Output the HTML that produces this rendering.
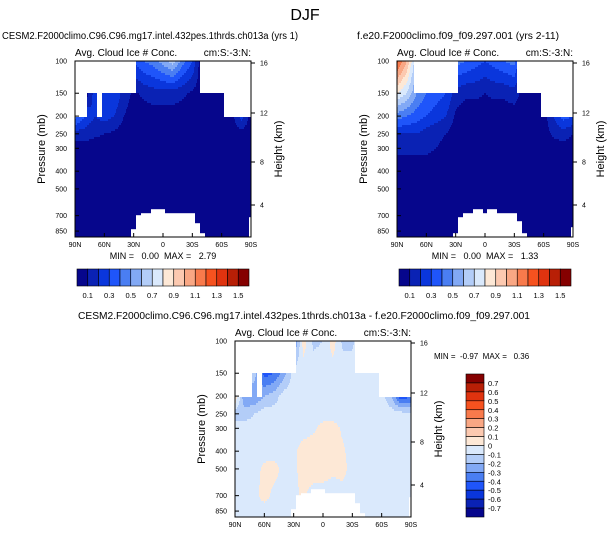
<!DOCTYPE html>
<html><head><meta charset="utf-8"><style>
body{margin:0;background:#fff;}
svg{display:block;font-family:"Liberation Sans",Arial,sans-serif;}
text{white-space:pre;}
</style></head><body>
<svg id="chart" width="609" height="538" viewBox="0 0 609 538">
<text x="305" y="20" font-size="16" text-anchor="middle">DJF</text>
</svg>
<script>
// ---- data ----
const latTicks = ["90N","60N","30N","0","30S","60S","90S"];
const presTicks = [100,150,200,250,300,400,500,700,850];
const heightTicks = [16,12,8,4];
const heightTickY = [2,52,101,144]; // offsets from plot top
const lats10 = [90,80,70,60,50,40,30,20,10,0,-10,-20,-30,-40,-50,-60,-70,-80,-90];
const levs = [100,150,200,250,300,400,500,700,850];
const seqLabels = ["0.1","0.3","0.5","0.7","0.9","1.1","1.3","1.5"];
const diffLabels = ["0.7","0.6","0.5","0.4","0.3","0.2","0.1","0","-0.1","-0.2","-0.3","-0.4","-0.5","-0.6","-0.7"];
const seqColors = ["#06068c","#0a22b4","#0a36dc","#1f55fa","#4a7ef2","#82a9f5","#b3cdf8","#dae9fc","#fde8d6","#fcc9b0","#f9a784","#f87a4c","#f6521f","#e0330f","#b81f06","#850000"];
// 5-degree masks (pressure where data starts / ends), 90N..90S
const top1 = [200,200,200,150,150,200,150,150,150,150,150,150,150,100,100,100,100,100,100,100,100,100,100,100,100,100,150,150,150,150,150,200,200,200,200,200,200];
const sfc1 = [999,999,999,999,999,999,999,999,999,999,999,999,830,690,670,670,640,640,640,670,670,670,670,670,670,760,860,999,999,999,999,999,999,999,999,999,720];
const top2 = [100,100,100,100,150,150,150,150,150,150,150,150,150,100,100,100,100,100,100,100,100,100,100,100,100,150,150,150,150,150,200,200,200,200,200,200,200];
const sfc2 = [999,999,999,999,999,999,999,999,999,999,999,999,860,720,670,670,640,640,670,640,640,670,670,670,670,740,880,999,999,999,999,999,999,999,999,999,800];
const top3 = [200,200,200,200,150,200,150,150,150,150,150,150,150,100,100,100,100,100,100,100,100,100,100,100,100,150,150,150,150,150,200,200,200,200,200,200,200];
const sfc3 = sfc1;
const field1 = [
[0,0,0,0,0,0,0.3,0.4,0.45,0.55,0.65,0.45,0.3,0,0,0,0,0,0],
[0,0,0.25,0.3,0.3,0.15,0.08,0.12,0.15,0.15,0.15,0.12,0.08,0.05,0.05,0.05,0,0,0],
[0.45,0.3,0.2,0.25,0.2,0.1,0.05,0.05,0.05,0.05,0.05,0.05,0.05,0.05,0.05,0.05,0.05,0.25,0.05],
[0.15,0.15,0.12,0.1,0.08,0.05,0.05,0.05,0.05,0.05,0.05,0.05,0.05,0.05,0.05,0.05,0.05,0.05,0.05],
[0.05,0.05,0.05,0.05,0.05,0.05,0.05,0.05,0.05,0.05,0.05,0.05,0.05,0.05,0.05,0.05,0.05,0.05,0.05],
[0.05,0.05,0.05,0.05,0.05,0.05,0.05,0.05,0.05,0.05,0.05,0.05,0.05,0.05,0.05,0.05,0.05,0.05,0.05],
[0.05,0.05,0.05,0.05,0.05,0.05,0.05,0.05,0.05,0.05,0.05,0.05,0.05,0.05,0.05,0.05,0.05,0.05,0.05],
[0.05,0.05,0.05,0.05,0.05,0.05,0.05,0.05,0.05,0.05,0.05,0.05,0.05,0.05,0.05,0.05,0.05,0.05,0.05],
[0.05,0.05,0.05,0.05,0.05,0.05,0.05,0.05,0.05,0.05,0.05,0.05,0.05,0.05,0.05,0.05,0.05,0.05,0.05]];
const field2 = [
[1.25,1.0,0.6,0,0,0,0.45,0.4,0.35,0.3,0.35,0.4,0.45,0,0,0,0,0,0],
[0.8,0.7,0.5,0.4,0.35,0.3,0.15,0.12,0.12,0.1,0.12,0.12,0.15,0.05,0.05,0.05,0,0,0],
[0.45,0.4,0.35,0.3,0.25,0.2,0.08,0.05,0.05,0.05,0.05,0.05,0.05,0.05,0.05,0.05,0.2,0.35,0.3],
[0.2,0.2,0.2,0.15,0.12,0.1,0.05,0.05,0.05,0.05,0.05,0.05,0.05,0.05,0.05,0.05,0.12,0.15,0.1],
[0.12,0.12,0.12,0.12,0.1,0.08,0.05,0.05,0.05,0.05,0.05,0.05,0.05,0.05,0.05,0.05,0.05,0.05,0.05],
[0.05,0.05,0.05,0.05,0.05,0.05,0.05,0.05,0.05,0.05,0.05,0.05,0.05,0.05,0.05,0.05,0.05,0.05,0.05],
[0.05,0.05,0.05,0.05,0.05,0.05,0.05,0.05,0.05,0.05,0.05,0.05,0.05,0.05,0.05,0.05,0.05,0.05,0.05],
[0.05,0.05,0.05,0.05,0.05,0.05,0.05,0.05,0.05,0.05,0.05,0.05,0.05,0.05,0.05,0.05,0.05,0.05,0.05],
[0.05,0.05,0.05,0.05,0.05,0.05,0.05,0.05,0.05,0.05,0.05,0.05,0.05,0.05,0.05,0.05,0.05,0.05,0.05]];
const field3 = [
[0,0,0,0,0,0,-0.35,0.05,-0.12,-0.1,0.05,-0.12,-0.12,0,0,0,0,0,0],
[0,0,-0.15,-0.45,-0.4,-0.25,-0.05,-0.05,-0.05,-0.05,-0.05,-0.05,-0.05,-0.05,-0.05,-0.05,0,0,0],
[0.1,-0.3,-0.3,-0.2,-0.15,-0.05,-0.05,-0.05,-0.05,-0.05,-0.05,-0.05,-0.05,-0.05,-0.05,-0.05,-0.2,-0.5,-0.4],
[-0.15,-0.15,-0.1,-0.05,-0.05,-0.05,-0.05,-0.05,-0.05,-0.05,-0.05,-0.05,-0.05,-0.05,-0.05,-0.05,-0.05,-0.05,-0.1],
[-0.05,-0.05,-0.05,-0.05,-0.05,-0.05,-0.05,-0.05,-0.02,0.04,0.05,-0.02,-0.05,-0.05,-0.05,-0.05,-0.05,-0.05,-0.05],
[-0.05,-0.05,-0.05,-0.05,-0.05,-0.05,-0.02,0.05,0.06,0.06,0.06,0.02,-0.05,-0.05,-0.05,-0.05,-0.05,-0.05,-0.05],
[-0.05,-0.05,-0.05,0.03,0.04,-0.03,-0.03,0.05,0.06,0.05,0.02,0.04,-0.05,-0.05,-0.05,-0.05,-0.05,-0.05,-0.05],
[-0.05,-0.05,-0.03,0.04,-0.03,-0.05,-0.03,0.02,-0.05,-0.05,-0.05,-0.05,-0.03,-0.05,-0.05,-0.05,-0.05,-0.05,-0.05],
[-0.05,-0.05,-0.05,-0.05,-0.05,-0.05,-0.05,-0.05,-0.05,-0.05,-0.05,-0.05,-0.05,-0.05,-0.05,-0.05,-0.05,-0.05,-0.05]];

// ---- drawing ----
const NS="http://www.w3.org/2000/svg";
const svg=document.getElementById('chart');
function mk(tag,attrs,parent){const e=document.createElementNS(NS,tag);for(const k in attrs)e.setAttribute(k,attrs[k]);(parent||svg).appendChild(e);return e;}
function txt(x,y,s,size,anchor,parent,extra){const t=mk('text',Object.assign({x:x,y:y,'font-size':size,'text-anchor':anchor||'start'},extra||{}),parent);t.textContent=s;return t;}
const W=176,H=176;
function yScale(y0,p){return y0+(Math.log10(p)-2)*183;}
function interp(field,lat,p){
  let fi=(90-lat)/10; fi=Math.max(0,Math.min(18,fi));
  const lp=Math.log10(p); const ll=levs.map(Math.log10);
  let j=0; while(j<levs.length-2 && lp>ll[j+1]) j++;
  let fj=(lp-ll[j])/(ll[j+1]-ll[j]); fj=Math.max(0,Math.min(1,fj));
  const i0=Math.floor(fi), i1=Math.min(18,i0+1), fx=fi-i0;
  const a=field[j][i0]*(1-fx)+field[j][i1]*fx;
  const b=field[j+1][i0]*(1-fx)+field[j+1][i1]*fx;
  return a*(1-fj)+b*fj;
}
function binSeq(v){let k=Math.floor(v/0.1+1e-9);return Math.max(0,Math.min(15,k));}
function binDiff(v){let k=Math.floor((v+0.8)/0.1+1e-9);return Math.max(0,Math.min(15,k));}
const diffColors=seqColors;

function panel(name,x0,y0,field,top,sfc,binf){
  const g=mk('g',{},svg);
  
  
  const fill=mk('g',{},g);
  
  
  for(let py=0;py<H;py+=2){
    const p=Math.pow(10,2+(py+1)/183);
    let runStart=-1,runCol=null;
    for(let px=0;px<=W;px++){
      let col=null;
      if(px<W){
        const lat=90-(px+0.5)/W*180;
        const mi=Math.round((90-lat)/5);
        if(p>=top[mi] && p<=sfc[mi]) col=binf(interp(field,lat,p));
      }
      if(col!==runCol){
        if(runCol!==null){
          const r=mk('rect',{x:x0+runStart,y:y0+py,width:px-runStart,height:2.2,fill:seqColors[runCol]},fill);
          
          
        }
        runStart=px;runCol=col;
      }
    }
  }
  const fr=mk('rect',{x:x0,y:y0,width:W,height:H,fill:'none',stroke:'#000','stroke-width':1},g);
  
  
  latTicks.forEach((s,i)=>{const x=x0+i*W/6;
    mk('line',{x1:x,x2:x,y1:y0+H,y2:y0+H-4,stroke:'#000'},g);
    const t=txt(x,y0+H+10,s,7,'middle',g);
    
    });
  presTicks.forEach(p=>{const y=yScale(y0,p);
    mk('line',{x1:x0,x2:x0+4,y1:y,y2:y,stroke:'#000'},g);
    const t=txt(x0-8,y+2.5,String(p),7,'end',g);
    
    });
  heightTicks.forEach((h,i)=>{const y=y0+heightTickY[i];
    mk('line',{x1:x0+W,x2:x0+W+4,y1:y,y2:y,stroke:'#000'},g);
    const t=txt(x0+W+9,y+2.5,String(h),7,'start',g);
    
    });
  const yl=txt(0,0,'Pressure (mb)',11,'middle',g,{transform:`translate(${x0-30},${y0+88}) rotate(-90)`});
  
  
  const yr=txt(0,0,'Height (km)',11,'middle',g,{transform:`translate(${x0+W+31},${y0+88}) rotate(-90)`});
  
  
  const t1=txt(x0,y0-5,'Avg. Cloud Ice # Conc.',10,'start',g);
  
  
  const t2=txt(x0+W,y0-5,'cm:S:-3:N:',10,'end',g);
  
  
  return g;
}
function hbar(name,x0,y0){
  const g=mk('g',{},svg);
  
  
  const bw=172/16;
  seqColors.forEach((c,i)=>{const r=mk('rect',{x:x0+i*bw,y:y0,width:bw,height:17,fill:c,stroke:'#000','stroke-width':0.6},g);
    
    });
  seqLabels.forEach((s,i)=>{const t=txt(x0+(2*i+1)*bw,y0+29,s,7.5,'middle',g);
    
    });
}
function title(s,x,y,name,size,len){const t=txt(x,y,s,size,'middle');if(len){t.setAttribute('textLength',len);t.setAttribute('lengthAdjust','spacingAndGlyphs');}}

title('CESM2.F2000climo.C96.C96.mg17.intel.432pes.1thrds.ch013a (yrs 1)',150,39,'panel1-title',10,296);
title('f.e20.F2000climo.f09_f09.297.001 (yrs 2-11)',458,39,'panel2-title',10,202);
title('CESM2.F2000climo.C96.C96.mg17.intel.432pes.1thrds.ch013a - f.e20.F2000climo.f09_f09.297.001',304,319,'diff-panel-title',10,452);

panel('panel-test',75,61,field1,top1,sfc1,binSeq);
panel('panel-control',397,61,field2,top2,sfc2,binSeq);
panel('panel-diff',235,341,field3,top3,sfc3,binDiff);

let m=txt(163,259,'MIN =   0.00  MAX =   2.79',9,'middle');
m=txt(485,259,'MIN =   0.00  MAX =   1.33',9,'middle');
m=txt(434,359,'MIN =  -0.97  MAX =   0.36',8,'start');

hbar('colorbar-test',77,269);
hbar('colorbar-control',399,269);
(function(){
  const g=mk('g',{},svg);
  
  
  const x0=466,y0=374,bh=143/16;
  for(let i=0;i<16;i++){const r=mk('rect',{x:x0,y:y0+i*bh,width:18,height:bh,fill:diffColors[15-i],stroke:'#000','stroke-width':0.6},g);
    
    }
  diffLabels.forEach((s,i)=>{const t=txt(x0+22,y0+(i+1)*bh+3,s,7.5,'start',g);
    
    });
})();
</script>
</body></html>
